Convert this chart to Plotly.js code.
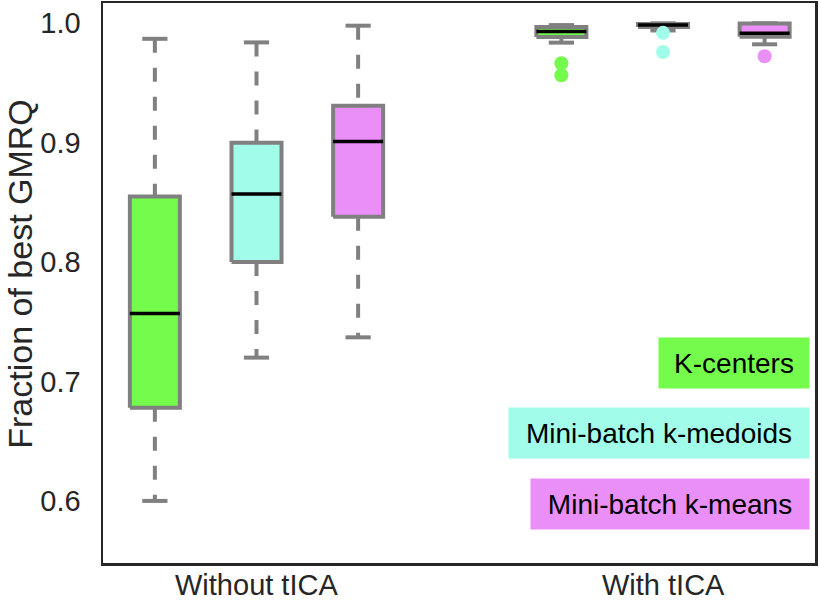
<!DOCTYPE html>
<html>
<head>
<meta charset="utf-8">
<script src="https://cdn.plot.ly/plotly-3.0.1.min.js"></script>
<style>
  html, body { margin: 0; padding: 0; background: #ffffff; }
  #chart { width: 820px; height: 603px; }
</style>
</head>
<body>
<div id="chart"></div>
<script>
// ---- data ----
const groups = ["Without tICA", "With tICA"];
const methods = ["K-centers", "Mini-batch k-medoids", "Mini-batch k-means"];

const kcLo  = [0.600, 0.9838];
const kcQ1  = [0.678, 0.9885];
const kcMed = [0.757, 0.9931];
const kcQ3  = [0.855, 0.9969];
const kcHi  = [0.987, 0.9985];
const kcOut = [[], [0.9665, 0.9565]];

const kmdLo  = [0.720, 0.9940];
const kmdQ1  = [0.800, 0.9970];
const kmdMed = [0.857, 0.9985];
const kmdQ3  = [0.900, 0.9995];
const kmdHi  = [0.984, 1.0000];
const kmdOut = [[], [0.9920, 0.9760]];

const kmLo  = [0.737, 0.9824];
const kmQ1  = [0.838, 0.9887];
const kmMed = [0.901, 0.9916];
const kmQ3  = [0.931, 0.9998];
const kmHi  = [0.998, 1.0000];
const kmOut = [[], [0.9724]];

const yTickVals = [0.6, 0.7, 0.8, 0.9, 1.0];
const yTickText = ["0.6", "0.7", "0.8", "0.9", "1.0"];

// ---- styling ----
const fills = ["#75fb4c", "#a1fce9", "#ea8ff7"];
const edge = "#808080";
const offsets = [-0.25, 0, 0.25];
const halfW = 0.0615;
const capW = 0.031;
const FONT = "Liberation Sans, Arial, Helvetica, sans-serif";

const stats = [
  {lo: kcLo, q1: kcQ1, med: kcMed, q3: kcQ3, hi: kcHi, out: kcOut},
  {lo: kmdLo, q1: kmdQ1, med: kmdMed, q3: kmdQ3, hi: kmdHi, out: kmdOut},
  {lo: kmLo, q1: kmQ1, med: kmMed, q3: kmQ3, hi: kmHi, out: kmOut}
];

const traces = [];
stats.forEach((s, m) => {
  const wx = [], wy = [], cx = [], cy = [], bx = [], by = [], mx = [], my = [], ox = [], oy = [];
  groups.forEach((g, gi) => {
    const c = gi + offsets[m];
    wx.push(c, c, null, c, c, null);
    wy.push(s.hi[gi], s.q3[gi], null, s.q1[gi], s.lo[gi], null);
    cx.push(c - capW, c + capW, null, c - capW, c + capW, null);
    cy.push(s.hi[gi], s.hi[gi], null, s.lo[gi], s.lo[gi], null);
    bx.push(c - halfW, c + halfW, c + halfW, c - halfW, c - halfW, null);
    by.push(s.q1[gi], s.q1[gi], s.q3[gi], s.q3[gi], s.q1[gi], null);
    mx.push(c - halfW, c + halfW, null);
    my.push(s.med[gi], s.med[gi], null);
    s.out[gi].forEach(v => { ox.push(c); oy.push(v); });
  });
  traces.push({x: wx, y: wy, mode: "lines", line: {color: edge, width: 4, dash: "14px,15px"}, hoverinfo: "skip", showlegend: false});
  traces.push({x: cx, y: cy, mode: "lines", line: {color: edge, width: 4}, hoverinfo: "skip", showlegend: false});
  traces.push({x: bx, y: by, mode: "lines", fill: "toself", fillcolor: fills[m], line: {color: edge, width: 4}, name: methods[m], showlegend: false});
  traces.push({x: mx, y: my, mode: "lines", line: {color: "#000000", width: 3.5}, hoverinfo: "skip", showlegend: false});
  traces.push({x: ox, y: oy, mode: "markers", marker: {color: fills[m], size: 14}, hoverinfo: "y", showlegend: false});
});

const legendY = [0.357, 0.232, 0.1054];
const legendW = [150, 300, 278];
const annotations = methods.map((name, i) => ({
  xref: "paper", yref: "paper", x: 1, y: legendY[i],
  xanchor: "right", yanchor: "middle", xshift: -5,
  text: name, showarrow: false,
  font: {family: FONT, size: 28, color: "#000000"},
  bgcolor: fills[i], borderpad: 0, width: legendW[i], height: 50, align: "center", valign: "middle"
}));
annotations.push({
  xref: "paper", yref: "paper", x: -0.117, y: 0.516,
  xanchor: "center", yanchor: "middle", textangle: -90,
  text: "Fraction of best GMRQ", showarrow: false,
  font: {family: FONT, size: 34, color: "#262626"}
});
groups.forEach((g, gi) => annotations.push({
  xref: "x", yref: "paper", x: gi, y: 0,
  xanchor: "center", yanchor: "bottom", yshift: -39,
  text: g, showarrow: false, borderpad: 0,
  font: {family: FONT, size: 29, color: "#262626"}
}));

const layout = {
  width: 820, height: 603,
  margin: {l: 103, r: 5, t: 3, b: 40},
  paper_bgcolor: "#ffffff", plot_bgcolor: "#ffffff",
  showlegend: false,
  font: {family: FONT, color: "#262626"},
  xaxis: {
    range: [-0.3776, 1.3739], tickvals: [0, 1], showticklabels: false,
    showgrid: false, zeroline: false, showline: true, mirror: true,
    linecolor: "#262626", linewidth: 2.5, ticks: ""
  },
  yaxis: {
    range: [0.548, 1.017], tickvals: yTickVals, ticktext: yTickText,
    showgrid: false, zeroline: false, showline: true, mirror: true,
    linecolor: "#262626", linewidth: 2.5, ticks: "", ticklabelstandoff: 14,
    tickfont: {size: 29, color: "#262626"}
  },
  annotations: annotations
};

Plotly.newPlot("chart", traces, layout, {displayModeBar: false, staticPlot: true});
</script>
</body>
</html>
